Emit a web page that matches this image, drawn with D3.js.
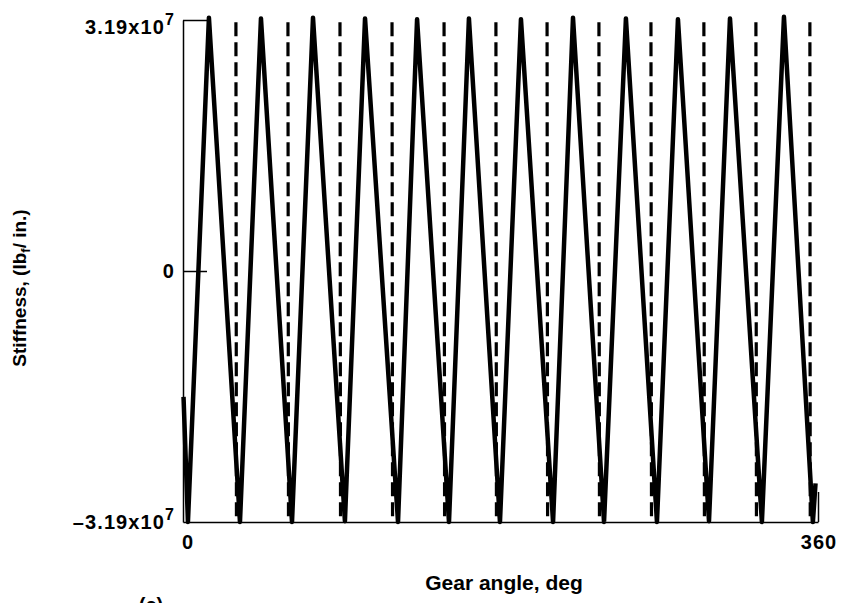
<!DOCTYPE html>
<html>
<head>
<meta charset="utf-8">
<script src="https://cdn.jsdelivr.net/npm/d3@7"></script>
<style>
body { margin: 0; background: #fff; }
text { font-family: "Liberation Sans", Arial, Helvetica, sans-serif; font-weight: bold; fill: #000; }
</style>
</head>
<body>
<div id="chart"></div>
<script>
// Stiffness vs gear angle (scanned figure, panel c)
const width = 842;
const height = 603;

// solid curve: corner points (deg, lbf/in.)
const solidAngles = [0.3, 2.8, 14.7, 32.3, 44.2, 61.8, 73.7, 91.8, 103.2, 121.9, 132.7,
                     150.8, 162.1, 179.7, 191.6, 209.8, 221.1, 238.7, 251.1, 268.7, 280.6,
                     298.2, 310.1, 328.2, 340.7, 357.1, 358.6];
const solidValues = [-1.6e7, -3.19e7, 3.22e7, -3.19e7, 3.21e7, -3.19e7, 3.22e7, -3.18e7, 3.21e7,
                     -3.19e7, 3.2e7, -3.19e7, 3.21e7, -3.19e7, 3.2e7, -3.19e7, 3.22e7, -3.19e7,
                     3.21e7, -3.19e7, 3.2e7, -3.18e7, 3.21e7, -3.19e7, 3.23e7, -3.19e7, -2.7e7];

// dashed curve: near-vertical drops, one per tooth
const dashStart = [30.0, 59.5, 89.0, 118.5, 148.0, 177.4, 206.4, 235.8, 265.3, 295.3, 324.8, 355.4];
const dashEnd   = [30.3, 59.8, 89.3, 118.8, 148.3, 177.7, 206.7, 236.1, 265.6, 295.6, 325.1, 355.6];
const dashTop = [3.16e7, 3.16e7, 3.16e7, 3.16e7, 3.16e7, 3.16e7, 3.16e7, 3.16e7, 3.16e7, 3.16e7, 3.16e7, 3.16e7];
const dashBottom = [-3.12e7, -3.12e7, -3.12e7, -3.12e7, -3.12e7, -3.12e7, -3.12e7, -3.12e7, -3.12e7, -3.12e7, -3.12e7, -3.12e7];

const xTicks = [0, 360];
const yTicks = [-3.19e7, 0, 3.19e7];

const svg = d3.select("#chart")
              .append("svg")
              .attr("width", width)
              .attr("height", height)
              .style("background-color", "#FFFFFF");

const x = d3.scaleLinear().domain([0, 360]).range([183, 818]);
const y = d3.scaleLinear().domain([-3.19e7, 3.19e7]).range([522, 20]);

// curves
const solidData = solidAngles.map((a, i) => [a, solidValues[i]]);
const dashData = [];
dashStart.forEach((a, i) => {
  dashData.push([a, dashTop[i]]);
  dashData.push([dashEnd[i], dashBottom[i]]);
  dashData.push(null);
});

const line = d3.line()
               .defined(d => d !== null)
               .x(d => x(d[0]))
               .y(d => y(d[1]));

svg.append("path")
   .datum(dashData)
   .attr("d", line)
   .attr("fill", "none")
   .attr("stroke", "#000")
   .attr("stroke-width", 3.2)
   .attr("stroke-dasharray", "14,6");

svg.append("path")
   .datum(solidData)
   .attr("d", line)
   .attr("fill", "none")
   .attr("stroke", "#000")
   .attr("stroke-width", 4.5)
   .attr("stroke-linejoin", "round");

// axes
const yAxis = d3.axisLeft(y).tickValues([0, 3.19e7]).tickSizeInner(-24).tickSizeOuter(0).tickFormat("");
const xAxis = d3.axisBottom(x).tickValues([360]).tickSizeInner(-30).tickSizeOuter(0).tickFormat("");

svg.append("g")
   .attr("id", "y-axis")
   .attr("transform", "translate(" + x(0) + ",0)")
   .call(yAxis)
   .call(g => g.selectAll("path, line").attr("stroke", "#000").attr("stroke-width", 1.5));

svg.append("g")
   .attr("id", "x-axis")
   .attr("transform", "translate(0," + y(-3.19e7) + ")")
   .call(xAxis)
   .call(g => g.selectAll("path, line").attr("stroke", "#000").attr("stroke-width", 1.5));

// y tick labels
const yLab = svg.append("g").selectAll("text")
                .data(yTicks)
                .enter()
                .append("text")
                .attr("x", 175)
                .attr("y", d => Math.max(y(d), 27))
                .attr("dy", "0.36em")
                .attr("text-anchor", "end")
                .style("font-size", "20px")
                .style("letter-spacing", "1.1px");
yLab.filter(d => d === 0).text("0");
yLab.filter(d => d !== 0).append("tspan").text(d => (d < 0 ? "\u2013" : "") + "3.19x10");
yLab.filter(d => d !== 0).append("tspan")
    .attr("dy", "-0.55em")
    .style("font-size", "16px")
    .text("7");

// x tick labels
svg.append("g").selectAll("text")
   .data(xTicks)
   .enter()
   .append("text")
   .attr("x", d => x(d) + (d === 0 ? 5 : 1))
   .attr("y", 549)
   .attr("text-anchor", "middle")
   .style("font-size", "20px")
   .style("letter-spacing", "1px")
   .text(d => d);

// titles
svg.append("text")
   .attr("x", 504)
   .attr("y", 590)
   .attr("text-anchor", "middle")
   .style("font-size", "21px")
   .text("Gear angle, deg");

const yTitle = svg.append("text")
                  .attr("transform", "translate(26,288) rotate(-90)")
                  .attr("text-anchor", "middle")
                  .style("font-size", "19px");
yTitle.append("tspan").text("Stiffness, (lb");
yTitle.append("tspan").attr("dy", "0.3em").style("font-size", "13px").text("f");
yTitle.append("tspan").attr("dy", "-0.2em").text("/ in.)");

svg.append("text")
   .attr("x", 151)
   .attr("y", 612)
   .attr("text-anchor", "middle")
   .style("font-size", "20px")
   .text("(c)");
</script>
</body>
</html>
